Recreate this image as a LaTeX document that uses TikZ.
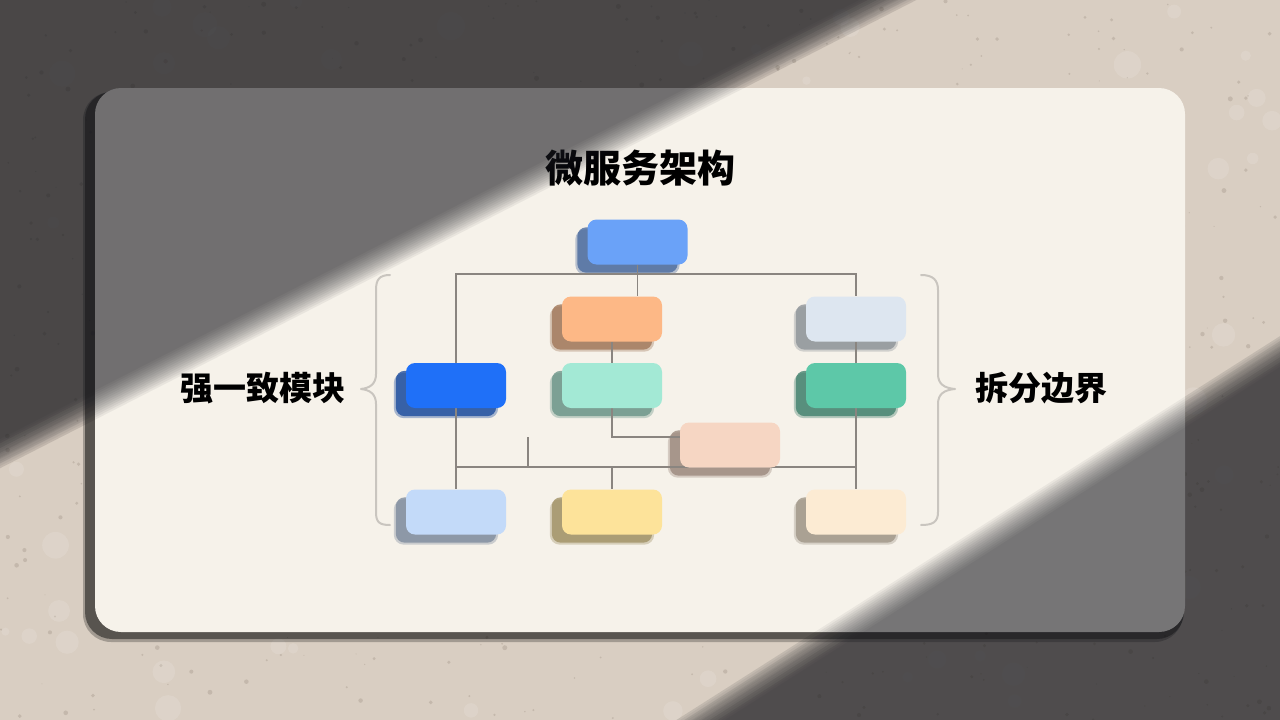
\documentclass[tikz,border=0pt]{standalone}
\usepackage{fontspec}
\newfontfamily\cjk{Noto Sans CJK SC}
\usetikzlibrary{calc}
\pgfdeclarelayer{back}
\pgfdeclarelayer{shad}
\pgfdeclarelayer{lines}
\pgfdeclarelayer{front}
\pgfsetlayers{back,shad,lines,main,front}
\definecolor{stone}{HTML}{D9CEC2}
\definecolor{stonedark}{HTML}{7A6C5E}
\definecolor{cardcol}{HTML}{F6F2EA}
\definecolor{conncol}{HTML}{8A8580}
\definecolor{bracecol}{HTML}{C9C5BF}
\definecolor{shadowcol}{HTML}{1E1F26}
\definecolor{cTop}{HTML}{6AA2F8}
\definecolor{cOrange}{HTML}{FDB886}
\definecolor{cGblue}{HTML}{DDE6F0}
\definecolor{cDblue}{HTML}{1F70F8}
\definecolor{cMint}{HTML}{A3E9D5}
\definecolor{cTeal}{HTML}{5DC8A8}
\definecolor{cPeach}{HTML}{F6D6C3}
\definecolor{cLblue}{HTML}{C3DAF9}
\definecolor{cYellow}{HTML}{FDE39A}
\definecolor{cBeige}{HTML}{FCEBD3}
\tikzset{
  boxst/.style={rectangle, rounded corners=9pt, minimum width=100pt, minimum height=45pt, inner sep=0pt},
  conn/.style={draw=conncol, line width=1.5pt},
  bracest/.style={draw=bracecol, line width=2pt, line cap=round, line join=round},
  bigtxt/.style={font=\cjk\bfseries\fontsize{38}{42}\selectfont, text=black},
  sidetxt/.style={font=\cjk\bfseries\fontsize{33}{38}\selectfont, text=black},
}
\newcommand\mkbox[3]{%
  \node[boxst, fill=#3] (#1) at (#2) {};
  \begin{pgfonlayer}{shad}
    \fill[#3!62!black, opacity=.35, rounded corners=10pt]
      ([shift={(-12,10)}]#1.north west) rectangle ([shift={(-8,10)}]#1.south east);
    \fill[#3!62!black, opacity=.75, rounded corners=9pt]
      ([shift={(-10,8)}]#1.north west) rectangle ([shift={(-10,8)}]#1.south east);
  \end{pgfonlayer}}
% the two light-edge polygons
\newcommand\shadeA{(1477,-300) -- (-300,608) -- (-300,-300) -- cycle}
\newcommand\shadeB{(1900,-44) -- (227,1020) -- (1900,1020) -- cycle}
\begin{document}
\begin{tikzpicture}[x=1pt, y=-1pt]
\useasboundingbox (0,0) rectangle (1280,720);
\begin{pgfonlayer}{back}
  % stone background
  \fill[stone] (0,0) rectangle (1280,720);
  \pgfmathsetseed{11}
  \foreach \i in {1,...,700}{
    \pgfmathsetmacro\xx{rnd*1280}
    \pgfmathsetmacro\yy{rnd*720}
    \pgfmathsetmacro\rr{0.5+rnd*2}
    \fill[stonedark, opacity=0.22] (\xx,\yy) circle[radius=\rr pt];
  }
  \foreach \i in {1,...,120}{
    \pgfmathsetmacro\xx{rnd*1280}
    \pgfmathsetmacro\yy{rnd*720}
    \pgfmathsetmacro\rr{4+rnd*10}
    \fill[white, opacity=0.12] (\xx,\yy) circle[radius=\rr pt];
  }
  % stone is darker in the shade than the card
  \foreach \k in {0,...,5}{
    \fill[black, opacity=0.06, shift={(-2*\k+5,-4*\k+11)}] \shadeA;
    \fill[black, opacity=0.05, shift={(2*\k-5,4*\k-11)}] \shadeB;
  }
  % card drop shadow
  \fill[black, opacity=0.25, rounded corners=28pt] (83,92) rectangle (1183,642);
  \fill[black, opacity=0.45, rounded corners=27pt] (85,92) rectangle (1184,639);
  % card
  \fill[cardcol, rounded corners=26pt] (95,88) rectangle (1185,632);
\end{pgfonlayer}

% title and side labels
\node[bigtxt] (title) at (640,168) {微服务架构};
\node[sidetxt] (lbl) at (263,388) {强一致模块};
\node[sidetxt] (rbl) at (1041,388) {拆分边界};

% boxes
\mkbox{top}{637.5,242}{cTop}
\mkbox{orange}{612,319}{cOrange}
\mkbox{gblue}{856,319}{cGblue}
\mkbox{dblue}{456,385.5}{cDblue}
\mkbox{mint}{612,385.5}{cMint}
\mkbox{teal}{856,385.5}{cTeal}
\mkbox{peach}{730,445}{cPeach}
\mkbox{lblue}{456,512}{cLblue}
\mkbox{yellow}{612,512}{cYellow}
\mkbox{beige}{856,512}{cBeige}

\coordinate (bus1) at (0,274);
\coordinate (bus3) at (0,437);
\coordinate (bus2) at (0,467);
\coordinate (jx) at (528,0);

\begin{pgfonlayer}{lines}
  \draw[conn] (top.south) -- (top.south |- orange.north);
  \draw[conn] (dblue.north) -- (dblue.north |- bus1) -- (gblue.north |- bus1) -- (gblue.north);
  \draw[conn] (orange) -- (mint);
  \draw[conn] (gblue) -- (teal);
  \draw[conn] (dblue) -- (lblue);
  \draw[conn] (teal) -- (beige);
  \draw[conn] (mint.south) -- (mint.south |- bus3) -- (peach.west |- bus3);
  \draw[conn] (jx |- bus3) -- (jx |- bus2);
  \draw[conn] (dblue.south |- bus2) -- (teal.south |- bus2);
  \draw[conn] (yellow.north |- bus2) -- (yellow.north);
\end{pgfonlayer}

% braces
\draw[bracest] (390,275) .. controls (379,275) and (376,280) .. (376,290) -- (376,374)
  .. controls (376,384) and (370,388) .. (361,389)
  .. controls (370,390) and (376,394) .. (376,404) -- (376,512)
  .. controls (376,522) and (379,525) .. (390,525);
\draw[bracest] (921,275) .. controls (933,275) and (938,280) .. (938,290) -- (938,374)
  .. controls (938,384) and (944,388) .. (955,389)
  .. controls (944,390) and (938,394) .. (938,404) -- (938,512)
  .. controls (938,522) and (933,525) .. (921,525);

% light and shadow
\begin{pgfonlayer}{front}
  \foreach \k in {0,...,13}{
    \fill[shadowcol, opacity=0.062, shift={(-0.9*\k+5,-1.8*\k+11)}] \shadeA;
    \fill[shadowcol, opacity=0.058, shift={(0.9*\k-5,1.8*\k-11)}] \shadeB;
  }
\end{pgfonlayer}
\end{tikzpicture}
\end{document}
